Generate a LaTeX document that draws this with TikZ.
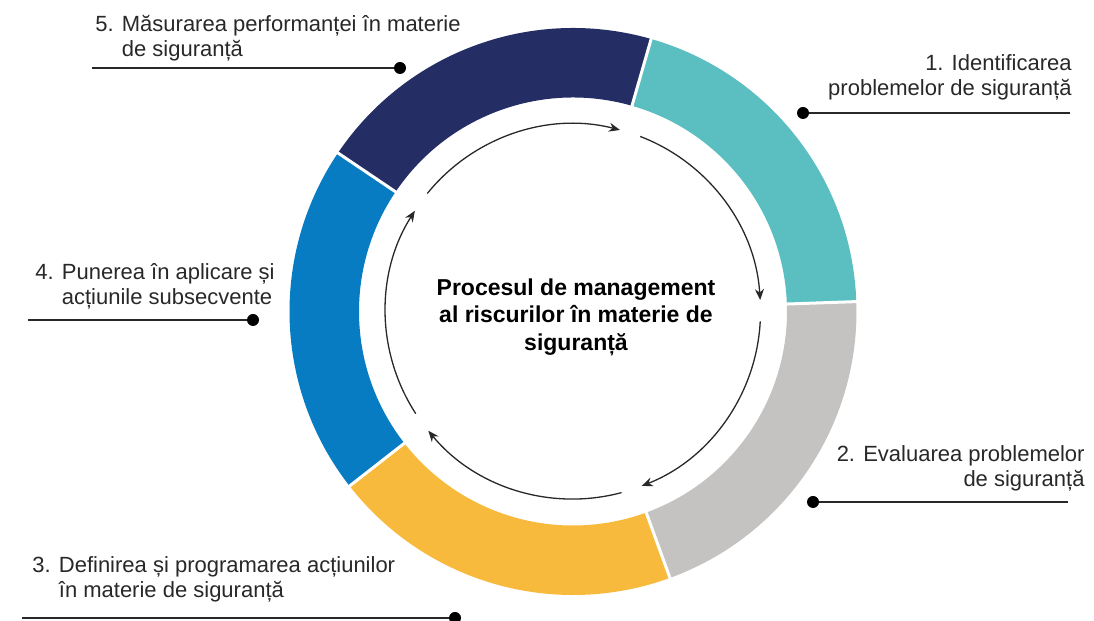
\documentclass[tikz,border=0pt]{standalone}
\usepackage{fontspec}
\setmainfont{Liberation Sans}
\usetikzlibrary{arrows.meta}

\definecolor{stepteal}{RGB}{91,191,193}
\definecolor{stepnavy}{RGB}{36,46,100}
\definecolor{stepblue}{RGB}{8,124,194}
\definecolor{stepyellow}{RGB}{247,186,60}
\definecolor{stepgray}{RGB}{197,195,194}
\definecolor{inkgray}{RGB}{40,40,40}

\begin{document}
\begin{tikzpicture}[x=0.5pt,y=0.5pt,>={Stealth[length=5.5pt,width=4.5pt]},
    label node/.style={inner sep=0pt,font=\fontsize{11}{12.5}\selectfont,text=inkgray},
    dot node/.style={circle,fill=black,inner sep=0pt,minimum size=6pt},
    lead line/.style={draw=inkgray,line width=1pt},
    cycle arrow/.style={draw=inkgray,line width=0.65pt,->}]
    \useasboundingbox (0,0) rectangle (1094,621);

    % ring
    \begin{scope}[shift={(573,309.5)}]
    \fill[stepteal] (2:283.5) arc[start angle=2,end angle=74,radius=283.5] -- (74:214) arc[start angle=74,end angle=2,radius=214] -- cycle;
    \fill[stepnavy] (74:283.5) arc[start angle=74,end angle=146,radius=283.5] -- (146:214) arc[start angle=146,end angle=74,radius=214] -- cycle;
    \fill[stepblue] (146:283.5) arc[start angle=146,end angle=218,radius=283.5] -- (218:214) arc[start angle=218,end angle=146,radius=214] -- cycle;
    \fill[stepyellow] (218:283.5) arc[start angle=218,end angle=290,radius=283.5] -- (290:214) arc[start angle=290,end angle=218,radius=214] -- cycle;
    \fill[stepgray] (290:283.5) arc[start angle=290,end angle=362,radius=283.5] -- (362:214) arc[start angle=362,end angle=290,radius=214] -- cycle;
    \draw[white,line width=1.5pt] (2:210) -- (2:288) (74:210) -- (74:288) (146:210) -- (146:288)
        (218:210) -- (218:288) (290:210) -- (290:288);

    % inner cycle
    \draw[cycle arrow] (69:187.5) arc[start angle=69,end angle=3.5,radius=187.5];
    \draw[cycle arrow] (-3:187.5) arc[start angle=-3,end angle=-68.5,radius=187.5];
    \draw[cycle arrow] (-75:187.5) arc[start angle=-75,end angle=-140.5,radius=187.5];
    \draw[cycle arrow] (213:187.5) arc[start angle=213,end angle=147.5,radius=187.5];
    \draw[cycle arrow] (141:187.5) arc[start angle=141,end angle=75.5,radius=187.5];
    \end{scope}

    \node[align=center,inner sep=0pt,font=\fontsize{11.5}{13.75}\selectfont\bfseries] (title) at (576,304)
        {Procesul de management\\al riscurilor în materie de\\siguranță};

    % labels
    \node[label node,align=right,anchor=south east] (l1) at (1072,520.4) {1. Identificarea\\problemelor de siguranță};
    \node[dot node] (d1) at (803,508) {};
    \coordinate (e1) at (1070,508);
    \node[label node,align=right,anchor=south east] (l2) at (1085,129.4) {2. Evaluarea problemelor\\de siguranță};
    \node[dot node] (d2) at (813,119) {};
    \coordinate (e2) at (1068,119);
    \node[label node,align=left,anchor=south west] (l3) at (32,18.4) {3. Definirea și programarea acțiunilor\\\phantom{3. }în materie de siguranță};
    \node[dot node] (d3) at (455,3) {};
    \coordinate (e3) at (22,3);
    \node[label node,align=left,anchor=south west] (l4) at (35,311.4) {4. Punerea în aplicare și\\\phantom{4. }acțiunile subsecvente};
    \node[dot node] (d4) at (253,301) {};
    \coordinate (e4) at (28,301);
    \node[label node,align=left,anchor=south west] (l5) at (95,559.4) {5. Măsurarea performanței în materie\\\phantom{5. }de siguranță};
    \node[dot node] (d5) at (400,553) {};
    \coordinate (e5) at (92,553);

    \draw[lead line] (d1) -- (e1);
    \draw[lead line] (d2) -- (e2);
    \draw[lead line] (d3) -- (e3);
    \draw[lead line] (d4) -- (e4);
    \draw[lead line] (d5) -- (e5);
\end{tikzpicture}
\end{document}
